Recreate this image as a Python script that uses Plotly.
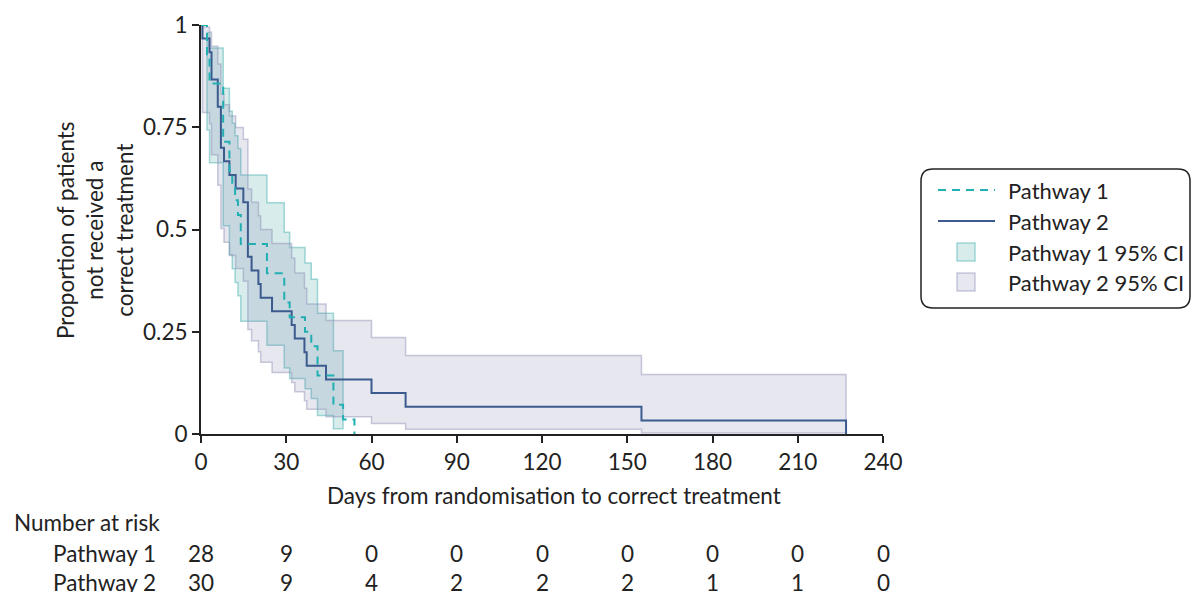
import plotly.graph_objects as go

# Kaplan-Meier estimates: event days and survival after each event
p1_days = [2.1, 3.0, 7.8, 10.0, 11.0, 12.0, 13.0, 14.0, 23.2, 29.3, 31.2, 36.6, 38.8, 41.0, 46.6, 50.0, 54.0]
p1_surv = [0.9286, 0.8571, 0.7143, 0.6429, 0.6071, 0.5714, 0.5357, 0.4643, 0.3929, 0.3214, 0.2857, 0.2500, 0.2143, 0.1429, 0.0714, 0.0357, 0.0]

p2_days = [0.5, 3.0, 3.7, 5.9, 7.0, 8.1, 10.0, 12.2, 14.9, 16.5, 17.8, 20.2, 21.0, 25.0, 31.9, 33.0, 36.4, 37.2, 44.0, 60.0, 72.0, 155.0, 227.0]
p2_surv = [0.9667, 0.9333, 0.8667, 0.8000, 0.7000, 0.6667, 0.6333, 0.6000, 0.5667, 0.4333, 0.4000, 0.3667, 0.3333, 0.3000, 0.2667, 0.2333, 0.2000, 0.1667, 0.1333, 0.1000, 0.0667, 0.0333, 0.0]

# 95% confidence limits (step values starting at each listed day)
p1_ci_days = [2.1, 3.0, 7.8, 10.0, 11.0, 12.0, 13.0, 14.0, 23.2, 29.3, 31.2, 36.6, 38.8, 41.0, 46.6]
p1_ci_end = 50.0
p1_lower = [0.7435, 0.6629, 0.5092, 0.4381, 0.4039, 0.3705, 0.3380, 0.2756, 0.2167, 0.1615, 0.1354, 0.1106, 0.0871, 0.0450, 0.0126]
p1_upper = [0.9816, 0.9438, 0.8456, 0.7894, 0.7599, 0.7295, 0.6983, 0.6333, 0.5651, 0.4934, 0.4562, 0.4178, 0.3783, 0.2950, 0.2037]

p2_ci_days = [0.5, 3.0, 3.7, 5.9, 7.0, 8.1, 10.0, 12.2, 14.9, 16.5, 17.8, 20.2, 21.0, 25.0, 31.9, 33.0, 36.4, 37.2, 44.0, 60.0, 72.0, 155.0]
p2_ci_end = 227.0
p2_lower = [0.7861, 0.7588, 0.6828, 0.6081, 0.5026, 0.4691, 0.4364, 0.4045, 0.3733, 0.2556, 0.2280, 0.2012, 0.1753, 0.1502, 0.1261, 0.1030, 0.0812, 0.0608, 0.0421, 0.0255, 0.0118, 0.0025]
p2_upper = [0.9952, 0.9829, 0.9478, 0.9048, 0.8312, 0.8048, 0.7775, 0.7496, 0.7208, 0.5989, 0.5667, 0.5338, 0.5000, 0.4655, 0.4301, 0.3938, 0.3564, 0.3178, 0.2777, 0.2359, 0.1917, 0.1452]

# Number-at-risk table
risk_days = [0, 30, 60, 90, 120, 150, 180, 210, 240]
risk_p1 = [28, 9, 0, 0, 0, 0, 0, 0, 0]
risk_p2 = [30, 9, 4, 2, 2, 2, 1, 1, 0]

y_ticks = [0, 0.25, 0.5, 0.75, 1]
y_tick_text = ["0", "0.25", "0.5", "0.75", "1"]

TEAL = "#22AFB2"
NAVY = "#3B5A8D"
TEAL_FILL = "rgba(40,150,150,0.18)"
TEAL_EDGE = "rgba(60,170,170,0.45)"
LAV_FILL = "rgba(120,120,170,0.18)"
LAV_EDGE = "rgba(140,140,180,0.45)"
INK = "#222222"
FONT = "Lato"
FS = 22.5
FS_LEG = 22


def band_polygon(days, lower, upper, end):
    """Closed step outline of a confidence band."""
    xs, ys = [], []
    edges = list(days) + [end]
    for i, u in enumerate(upper):
        xs += [edges[i], edges[i + 1]]
        ys += [u, u]
    for i in range(len(lower) - 1, -1, -1):
        xs += [edges[i + 1], edges[i]]
        ys += [lower[i], lower[i]]
    xs.append(xs[0])
    ys.append(ys[0])
    return xs, ys


fig = go.Figure()

bx, by = band_polygon(p1_ci_days, p1_lower, p1_upper, p1_ci_end)
fig.add_trace(go.Scatter(x=bx, y=by, mode="lines", fill="toself", fillcolor=TEAL_FILL,
                         line=dict(color=TEAL_EDGE, width=1.5), hoverinfo="skip", showlegend=False))
bx, by = band_polygon(p2_ci_days, p2_lower, p2_upper, p2_ci_end)
fig.add_trace(go.Scatter(x=bx, y=by, mode="lines", fill="toself", fillcolor=LAV_FILL,
                         line=dict(color=LAV_EDGE, width=1.5), hoverinfo="skip", showlegend=False))

fig.add_trace(go.Scatter(x=[0] + p2_days, y=[1] + p2_surv, mode="lines", line_shape="hv",
                         line=dict(color=NAVY, width=2), showlegend=False))
fig.add_trace(go.Scatter(x=[0] + p1_days, y=[1] + p1_surv, mode="lines", line_shape="hv",
                         line=dict(color=TEAL, width=2, dash="8px,6px"), showlegend=False))

L, R, T, B = 201, 309, 25, 158
W, H = 1192, 592
PW, PH = W - L - R, H - T - B


def px(x):
    return (x - L) / PW


def py(y):
    return (T + PH - y) / PH


def txt(s, x, y, anchor="left", xref="paper", size=FS, **kw):
    return dict(text=s, x=x, y=py(y), xref=xref, yref="paper", showarrow=False,
                font=dict(size=size, color=INK, family=FONT), xanchor=anchor, yanchor="middle", **kw)


ann = []
# Axis titles
ann.append(txt("Days from randomisation to correct treatment", px(554), 495, "center"))
ann.append(txt("Proportion of patients<br>not received a<br>correct treatment", px(95), 230, "center",
               textangle=-90))

# Number at risk
ann.append(txt("Number at risk", px(12), 522))
for label, counts, row_y in (("Pathway 1", risk_p1, 553), ("Pathway 2", risk_p2, 582)):
    ann.append(txt(label, px(158), row_y, "right"))
    for d, n in zip(risk_days, counts):
        ann.append(txt(str(n), d, row_y, "center", xref="x"))

# Legend
shapes = []
bx0, bx1, by0, by1, rad = 921, 1190, 169, 308, 12
path = (f"M {px(bx0 + rad)},{py(by0)} L {px(bx1 - rad)},{py(by0)} "
        f"Q {px(bx1)},{py(by0)} {px(bx1)},{py(by0 + rad)} L {px(bx1)},{py(by1 - rad)} "
        f"Q {px(bx1)},{py(by1)} {px(bx1 - rad)},{py(by1)} L {px(bx0 + rad)},{py(by1)} "
        f"Q {px(bx0)},{py(by1)} {px(bx0)},{py(by1 - rad)} L {px(bx0)},{py(by0 + rad)} "
        f"Q {px(bx0)},{py(by0)} {px(bx0 + rad)},{py(by0)} Z")
shapes.append(dict(type="path", path=path, xref="paper", yref="paper",
                   line=dict(color=INK, width=1.5), fillcolor="rgba(255,255,255,0)"))
shapes.append(dict(type="line", xref="paper", yref="paper", x0=px(938), x1=px(995), y0=py(190), y1=py(190),
                   line=dict(color=TEAL, width=2, dash="8px,6px")))
shapes.append(dict(type="line", xref="paper", yref="paper", x0=px(938), x1=px(995), y0=py(221), y1=py(221),
                   line=dict(color=NAVY, width=2)))
shapes.append(dict(type="rect", xref="paper", yref="paper", x0=px(957), x1=px(975), y0=py(243), y1=py(261),
                   fillcolor=TEAL_FILL, line=dict(color=TEAL_EDGE, width=1.5)))
shapes.append(dict(type="rect", xref="paper", yref="paper", x0=px(957), x1=px(975), y0=py(273), y1=py(291),
                   fillcolor=LAV_FILL, line=dict(color=LAV_EDGE, width=1.5)))
for text, ly in (("Pathway 1", 190), ("Pathway 2", 221), ("Pathway 1 95% CI", 252), ("Pathway 2 95% CI", 282)):
    ann.append(txt(text, px(1006), ly, size=FS_LEG))

fig.update_layout(
    width=W, height=H,
    margin=dict(l=L, r=R, t=T, b=B),
    paper_bgcolor="white", plot_bgcolor="white",
    font=dict(family=FONT, size=FS, color=INK),
    showlegend=False,
    annotations=ann,
    shapes=shapes,
    xaxis=dict(range=[0, 240], tickvals=risk_days, ticks="outside", ticklen=7, tickwidth=2,
               tickcolor=INK, showline=True, linecolor=INK, linewidth=2, showgrid=False,
               zeroline=False, tickfont=dict(size=FS, color=INK)),
    yaxis=dict(range=[0, 1], tickvals=y_ticks, ticktext=y_tick_text, ticks="outside", ticklen=7,
               tickwidth=2, tickcolor=INK, showline=True, linecolor=INK, linewidth=2, showgrid=False,
               zeroline=False, tickfont=dict(size=FS, color=INK)),
)

fig.write_html("out.html")
